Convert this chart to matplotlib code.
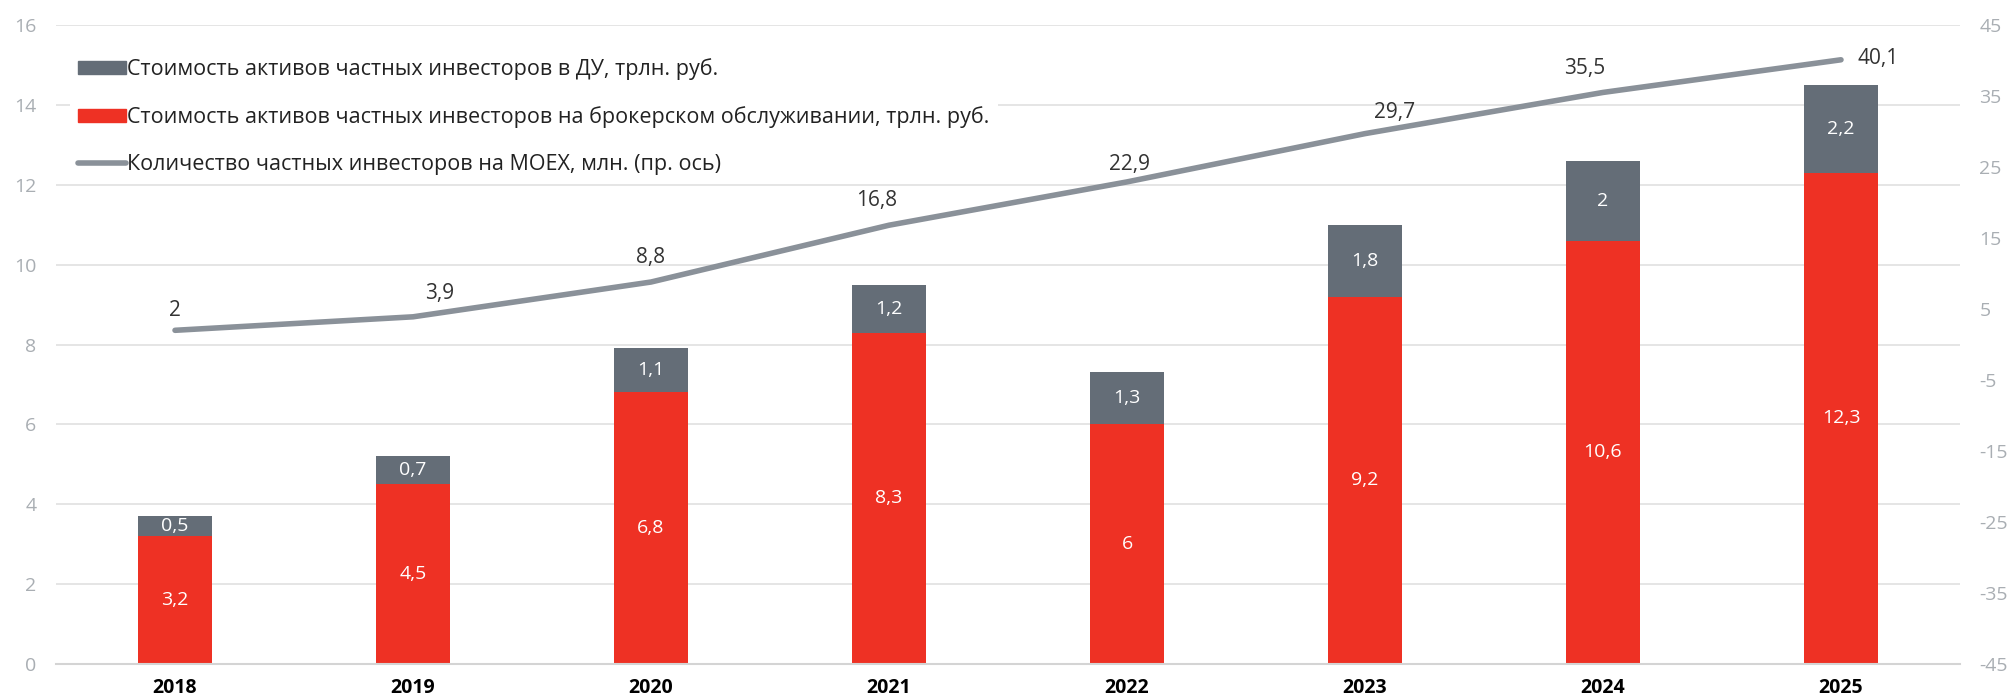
import numpy as np
import matplotlib.pyplot as plt
from matplotlib.patches import Patch
from matplotlib.lines import Line2D

plt.rcParams['font.family'] = ['Open Sans', 'DejaVu Sans']
plt.rcParams['axes.unicode_minus'] = False

years = ['2018', '2019', '2020', '2021', '2022', '2023', '2024', '2025']
broker = [3.2, 4.5, 6.8, 8.3, 6.0, 9.2, 10.6, 12.3]
du = [0.5, 0.7, 1.1, 1.2, 1.3, 1.8, 2.0, 2.2]
investors = [2.0, 3.9, 8.8, 16.8, 22.9, 29.7, 35.5, 40.1]

lbl_du = 'Стоимость активов частных инвесторов в ДУ, трлн. руб.'
lbl_broker = 'Стоимость активов частных инвесторов на брокерском обслуживании, трлн. руб.'
lbl_line = 'Количество частных инвесторов на MOEX, млн. (пр. ось)'

# label offsets for the line values (points), placed by hand in the original
lab_dx = [0, 19, 0, -9, 2, 21, -13, 27]
lab_dy = [14.5, 17, 18, 17.5, 12.5, 15.5, 17.5, 1]

red = '#EE3124'
gray = '#646D77'
line_gray = '#8A9199'
tick_gray = '#A9AEB3'

def fmt(v):
    s = ('%.1f' % v).rstrip('0').rstrip('.')
    return s.replace('.', ',')

fig = plt.figure(figsize=(20.15, 7), dpi=100)
ax = fig.add_axes([0.0278, 0.0514, 0.9449, 0.9129])
x = np.arange(len(years))
w = 0.31

b1 = ax.bar(x, broker, w, color=red, edgecolor='none', zorder=2)
b2 = ax.bar(x, du, w, bottom=broker, color=gray, edgecolor='none', zorder=2)

for i in range(len(x)):
    ax.text(x[i], broker[i] / 2, fmt(broker[i]), ha='center', va='center',
            color='white', fontsize=14, zorder=3)
    ax.text(x[i], broker[i] + du[i] / 2, fmt(du[i]), ha='center', va='center',
            color='white', fontsize=14, zorder=3)

ax.set_xlim(-0.5, len(years) - 0.5)
ax.set_ylim(0, 16)
ax.set_yticks(np.arange(0, 17, 2))
ax.set_xticks(x)
ax.set_xticklabels(years, fontsize=14, fontweight='bold', color='black')
ax.tick_params(axis='y', length=0, labelsize=14, labelcolor=tick_gray, pad=14)
ax.tick_params(axis='x', length=0, pad=10)
ax.grid(axis='y', color='#E3E3E3', linewidth=1.3, zorder=0)
ax.set_axisbelow(True)
for s in ['top', 'right', 'left']:
    ax.spines[s].set_visible(False)
ax.spines['bottom'].set_color('#D4D4D4')
ax.spines['bottom'].set_linewidth(1.5)

ax2 = ax.twinx()
ax2.plot(x, investors, color=line_gray, linewidth=4, solid_capstyle='round',
         solid_joinstyle='round', zorder=4)
for i in range(len(x)):
    ax2.annotate(fmt(investors[i]), (x[i], investors[i]),
                 xytext=(lab_dx[i], lab_dy[i]), textcoords='offset points',
                 ha='center', va='center', fontsize=15, color='#333333')
ax2.set_ylim(-45, 45)
ax2.set_yticks(np.arange(-45, 46, 10))
ax2.tick_params(axis='y', length=0, labelsize=14, labelcolor=tick_gray, pad=14)
for s in ['top', 'right', 'left', 'bottom']:
    ax2.spines[s].set_visible(False)

handles = [Patch(color=gray), Patch(color=red),
           Line2D([0], [0], color=line_gray, linewidth=4, solid_capstyle='round')]
leg = ax2.legend(handles, [lbl_du, lbl_broker, lbl_line], loc='upper left',
                 bbox_to_anchor=(0.005, 0.968), fontsize=15.5, frameon=True,
                 facecolor='white', edgecolor='none', framealpha=1,
                 handlelength=2.2, handleheight=0.55, handletextpad=0.05,
                 labelspacing=1.2, borderpad=0.4, borderaxespad=0.2)
for t in leg.get_texts():
    t.set_color('#222222')

fig.savefig('out.png', dpi=100)
